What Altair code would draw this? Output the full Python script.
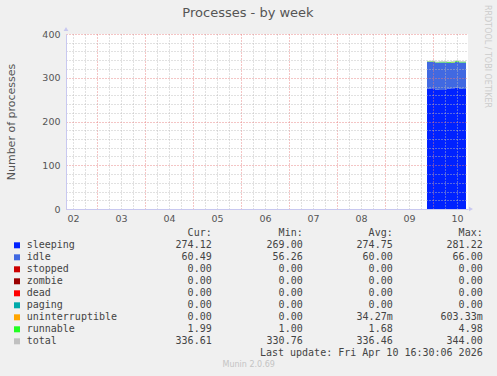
import altair as alt
import pandas as pd

# ---- data ----
days = [9.875, 9.958, 10.042, 10.125, 10.208, 10.292, 10.375, 10.458, 10.542, 10.625, 10.6875]
sleeping = [275, 276, 273, 272, 274, 275, 276, 277, 275, 274.12, 274.12]
idle = [61, 60, 62, 63, 61, 59, 58, 59, 60, 60.49, 60.49]
stopped = [0, 0, 0, 0, 0, 0, 0, 0, 0, 0, 0]
zombie = [0, 0, 0, 0, 0, 0, 0, 0, 0, 0, 0]
dead = [0, 0, 0, 0, 0, 0, 0, 0, 0, 0, 0]
paging = [0, 0, 0, 0, 0, 0, 0, 0, 0, 0, 0]
uninterruptible = [0, 0, 0, 0, 0, 0, 0.6, 0, 0, 0, 0]
runnable = [1.5, 2.0, 1.0, 1.5, 1.7, 2.0, 1.8, 2.5, 1.6, 1.99, 1.99]

series_names = ["sleeping", "idle", "stopped", "zombie", "dead", "paging",
                "uninterruptible", "runnable", "total"]
series_colors = ["#0022ff", "#4169e1", "#cc0000", "#990000", "#ff0000", "#00aaaa",
                 "#ffa500", "#22ff22", "#c0c0c0"]
cur_vals = ["274.12", "60.49", "0.00", "0.00", "0.00", "0.00", "0.00", "1.99", "336.61"]
min_vals = ["269.00", "56.26", "0.00", "0.00", "0.00", "0.00", "0.00", "1.00", "330.76"]
avg_vals = ["274.75", "60.00", "0.00", "0.00", "0.00", "0.00", "34.27m", "1.68", "336.46"]
max_vals = ["281.22", "66.00", "0.00", "0.00", "0.00", "0.00", "603.33m", "4.98", "344.00"]

x_ticks = [2.5 + 0.25 * i for i in range(33)]
y_ticks = list(range(0, 401, 20))

# ---- build tables ----
stack_series = {
    "sleeping": sleeping, "idle": idle, "stopped": stopped, "zombie": zombie,
    "dead": dead, "paging": paging, "uninterruptible": uninterruptible,
    "runnable": runnable,
}
rows = []
for k, (name, vals) in enumerate(stack_series.items()):
    for d, v in zip(days, vals):
        rows.append({"day": d, "value": v, "series": name, "k": k})
df = pd.DataFrame(rows)

totals = [sum(v[i] for v in stack_series.values()) for i in range(len(days))]
tdf = pd.DataFrame({"day": days, "value": totals})

nbsp = "\u00a0"
def fmt(s):
    return s if s.endswith("m") else s + nbsp

leg = pd.DataFrame({
    "row": list(range(len(series_names))),
    "series": series_names,
    "cur": [fmt(s) for s in cur_vals],
    "min": [fmt(s) for s in min_vals],
    "avg": [fmt(s) for s in avg_vals],
    "max": [fmt(s) for s in max_vals],
})

TEXT = "#555555"
LEG = "#444444"
AXC = "#c8c8f0"
MONO = "DejaVu Sans Mono"
SANS = "DejaVu Sans"
MAJOR = "#e88080"
MINOR = "#bdbdbd"

cscale = alt.Scale(domain=series_names, range=series_colors)
xscale = alt.Scale(domain=[2.354, 10.729], nice=False, zero=False)
yscale = alt.Scale(domain=[0, 400], nice=False)

xaxis = alt.Axis(
    values=x_ticks,
    labelExpr="datum.value % 1 === 0.5 ? ((floor(datum.value) < 10 ? '0' : '') + floor(datum.value)) : ''",
    grid=True,
    gridColor={"condition": {"test": "datum.value % 1 === 0", "value": MAJOR}, "value": MINOR},
    gridDash=[1, 2],
    gridOpacity=0.9,
    ticks=False,
    domainColor=AXC,
    labelFont=SANS, labelFontSize=9.5, labelColor=TEXT, labelPadding=4,
    labelOverlap=False, labelFlush=False,
    title=None, zindex=1, orient="bottom",
)
yaxis = alt.Axis(
    values=y_ticks,
    labelExpr="datum.value % 100 === 0 ? datum.label : ''",
    grid=True,
    gridColor={"condition": {"test": "datum.value % 100 === 0", "value": MAJOR}, "value": MINOR},
    gridDash=[1, 2],
    gridOpacity=0.9,
    ticks=False,
    domainColor=AXC,
    labelFont=SANS, labelFontSize=9.5, labelColor=TEXT, labelPadding=6,
    labelOverlap=False, labelFlush=False,
    title="Number of processes", titleFont=SANS, titleFontSize=11, titleFontWeight="normal",
    titleColor=TEXT, titleX=-55, titleY=87.5, titleAngle=-90, titleAlign="center",
    titleBaseline="middle", zindex=1, orient="left",
)

area = alt.Chart(df).mark_area(interpolate="step-after").encode(
    x=alt.X("day:Q", scale=xscale, axis=xaxis),
    y=alt.Y("value:Q", stack="zero", scale=yscale, axis=yaxis),
    color=alt.Color("series:N", scale=cscale, legend=None),
    order=alt.Order("k:Q", sort="ascending"),
)

total_line = alt.Chart(tdf).mark_line(
    interpolate="step-after", color="#c0c0c0", strokeWidth=1, opacity=0.8
).encode(
    x=alt.X("day:Q", scale=xscale, axis=xaxis),
    y=alt.Y("value:Q", scale=yscale, axis=yaxis),
)

one = pd.DataFrame({"t": ["Processes - by week"]})
arrow_x = alt.Chart(one).mark_point(shape="triangle-right", filled=True, size=22,
                                    color=AXC, opacity=1).encode(
    x=alt.value(405), y=alt.value(175))
arrow_y = alt.Chart(one).mark_point(shape="triangle-up", filled=True, size=22,
                                    color=AXC, opacity=1).encode(
    x=alt.value(0), y=alt.value(-5))

main = alt.layer(area, total_line, arrow_x, arrow_y)

# ---- legend ----
ly = alt.Y("row:Q", scale=alt.Scale(domain=[0, 8], range=[211.3, 307.3]), axis=None)

squares = alt.Chart(leg).mark_square(size=36, opacity=1).encode(
    x=alt.value(-49), y=ly,
    color=alt.Color("series:N", scale=cscale, legend=None),
)
names = alt.Chart(leg).mark_text(align="left", baseline="middle", font=MONO,
                                 fontSize=10, color=LEG).encode(
    x=alt.value(-39.3), y=ly, text="series:N")

def col(field, xpos):
    return alt.Chart(leg).mark_text(align="right", baseline="middle", font=MONO,
                                    fontSize=10, color=LEG).encode(
        x=alt.value(xpos), y=ly, text=f"{field}:N")

hdr = pd.DataFrame({
    "row": [-1, -1, -1, -1],
    "h": ["Cur:" + nbsp * 2, "Min:" + nbsp * 2, "Avg:" + nbsp * 2, "Max:" + nbsp * 2],
    "col": [0, 1, 2, 3],
})
col_x = [145.7, 236.7, 326.7, 416.7]
headers = [
    alt.Chart(hdr[hdr["col"] == i]).mark_text(align="right", baseline="middle",
                                              font=MONO, fontSize=10, color=LEG).encode(
        x=alt.value(col_x[i]), y=ly, text="h:N")
    for i in range(4)
]

upd = pd.DataFrame({"row": [9], "t": ["Last update: Fri Apr 10 16:30:06 2026"]})
update = alt.Chart(upd).mark_text(align="right", baseline="middle", font=MONO,
                                  fontSize=10, color=LEG).encode(
    x=alt.value(416.7), y=ly, text="t:N")

mun = pd.DataFrame({"row": [10], "t": ["Munin 2.0.69"]})
munin = alt.Chart(mun).mark_text(align="center", baseline="middle", font=SANS,
                                 fontSize=8, color="#c4c4c4").encode(
    x=alt.value(182.7), y=ly, text="t:N")

title = alt.Chart(one).mark_text(align="center", baseline="middle", font=SANS,
                                 fontSize=13, color=TEXT).encode(
    x=alt.value(182), y=alt.value(-21), text="t:N")

rrd = pd.DataFrame({"t": ["RRDTOOL / TOBI OETIKER"]})
rrdtext = alt.Chart(rrd).mark_text(align="center", baseline="middle", font=SANS,
                                   fontSize=8, angle=90, color="#cccccc").encode(
    x=alt.value(420.7), y=alt.value(22.5), text="t:N")

legend = alt.layer(squares, names, col("cur", 145.7), col("min", 236.7),
                   col("avg", 326.7), col("max", 416.7), *headers, update, munin,
                   title, rrdtext)

chart = alt.layer(main, legend).resolve_scale(y="independent").properties(
    width=402, height=175,
    padding={"left": 66, "top": 34, "right": 29, "bottom": 167},
    autosize=alt.AutoSizeParams(type="none"),
    background="#f0f0f0",
).configure_view(stroke=None, fill="white")

chart.save("out.html", embed_options={"renderer": "svg", "actions": False})
